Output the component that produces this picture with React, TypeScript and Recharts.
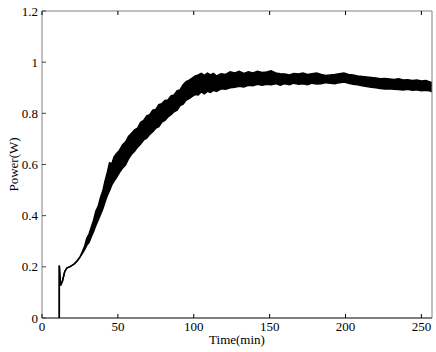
import { Area, ComposedChart, Label, XAxis, YAxis } from "recharts";

// time in minutes, lower / upper edge of the noisy power trace (W)
const times = [
  11.4, 11.4, 12.2, 13.5, 15, 16.5, 18.5, 21, 23, 25, 26.5, 28, 29.5, 31, 32.5, 34, 35.5, 37, 38.5, 40,
  41.5, 43, 44.5, 46, 47.5, 49, 51, 53, 55, 57, 59, 61, 63, 65, 67, 69, 71, 73, 75, 77,
  79, 81, 83, 85, 87, 89, 91, 93, 95, 97, 99, 101, 103, 105, 107, 109, 111, 113, 115, 118,
  121, 124, 127, 130, 133, 136, 139, 142, 145, 148, 151, 154, 157, 160, 163, 166, 169, 172, 175, 178,
  181, 184, 187, 190, 193, 196, 199, 202, 205, 208, 211, 214, 217, 220, 223, 226, 229, 232, 235, 238,
  241, 244, 247, 250, 253, 256, 257,
];
const lowEdge = [
  0, 0.205, 0.127, 0.145, 0.182, 0.196, 0.201, 0.21, 0.222, 0.238, 0.252, 0.266, 0.284, 0.296, 0.318, 0.338, 0.362, 0.382, 0.404, 0.425,
  0.452, 0.478, 0.498, 0.52, 0.535, 0.548, 0.568, 0.585, 0.598, 0.622, 0.64, 0.652, 0.668, 0.68, 0.696, 0.703, 0.718, 0.728, 0.742, 0.748,
  0.766, 0.772, 0.786, 0.795, 0.806, 0.812, 0.83, 0.836, 0.852, 0.858, 0.866, 0.874, 0.872, 0.884, 0.876, 0.886, 0.882, 0.89, 0.886, 0.896,
  0.894, 0.9, 0.902, 0.906, 0.903, 0.91, 0.908, 0.914, 0.91, 0.914, 0.912, 0.916, 0.91, 0.916, 0.912, 0.918, 0.914, 0.916, 0.912, 0.918,
  0.915, 0.916, 0.92, 0.918, 0.916, 0.92, 0.922, 0.918, 0.914, 0.912, 0.908, 0.905, 0.902, 0.9, 0.897, 0.895, 0.896, 0.894, 0.893, 0.891,
  0.894, 0.89, 0.892, 0.888, 0.89, 0.887, 0.884,
];
const highEdge = [
  0, 0.205, 0.127, 0.145, 0.182, 0.196, 0.201, 0.21, 0.222, 0.238, 0.258, 0.279, 0.312, 0.328, 0.356, 0.382, 0.418, 0.436, 0.47, 0.495,
  0.535, 0.568, 0.607, 0.603, 0.63, 0.642, 0.655, 0.676, 0.688, 0.71, 0.722, 0.735, 0.742, 0.765, 0.772, 0.79, 0.795, 0.812, 0.815, 0.834,
  0.838, 0.85, 0.852, 0.868, 0.872, 0.888, 0.892, 0.912, 0.924, 0.93, 0.938, 0.946, 0.95, 0.956, 0.948, 0.957, 0.95, 0.956, 0.946, 0.955,
  0.952, 0.962, 0.958, 0.964, 0.956, 0.962, 0.958, 0.964, 0.96, 0.962, 0.966, 0.958, 0.955, 0.954, 0.95, 0.956, 0.954, 0.958, 0.952, 0.955,
  0.958, 0.952, 0.948, 0.95, 0.952, 0.955, 0.958, 0.952, 0.95, 0.946, 0.944, 0.942, 0.94, 0.938, 0.935, 0.936, 0.934, 0.932, 0.935, 0.93,
  0.931, 0.928, 0.93, 0.926, 0.928, 0.922, 0.92,
];
const xTicks = [0, 50, 100, 150, 200, 250];
const yTicks = [0, 0.2, 0.4, 0.6, 0.8, 1, 1.2];

const data = times.map((t, i) => ({ t, band: [lowEdge[i], highEdge[i]] }));

const FONT = "'Liberation Serif', 'Times New Roman', serif";
const FONT_SIZE = 13;
const TICK_LEN = 4;
const BOX_GRAY = "#808080";

function BottomTick({ x, y, payload }: any) {
  return (
    <g>
      <line x1={x} y1={y} x2={x} y2={y - TICK_LEN} stroke="#000" />
      <text x={x} y={y + 13} textAnchor="middle" fontFamily={FONT} fontSize={FONT_SIZE} fill="#000">
        {payload.value}
      </text>
    </g>
  );
}

function LeftTick({ x, y, payload }: any) {
  return (
    <g>
      <line x1={x} y1={y} x2={x + TICK_LEN} y2={y} stroke="#444" />
      <text x={x - 4} y={y} textAnchor="end" dominantBaseline="central" fontFamily={FONT} fontSize={FONT_SIZE} fill="#000">
        {payload.value}
      </text>
    </g>
  );
}

function TopTick({ x, y }: any) {
  return <line x1={x} y1={y} x2={x} y2={y + TICK_LEN} stroke="#000" />;
}

function RightTick({ x, y }: any) {
  return <line x1={x} y1={y} x2={x - TICK_LEN} y2={y} stroke="#444" />;
}

export default function App() {
  return (
    <div style={{ position: "absolute", left: 0, top: 0, background: "#fff" }}>
      <ComposedChart width={436} height={352} data={data} margin={{ top: 0, right: 0, bottom: 0, left: 0 }}>
        <XAxis
          dataKey="t"
          type="number"
          domain={[0, 257]}
          ticks={xTicks}
          allowDataOverflow
          height={34}
          tickSize={0}
          tickMargin={0}
          tickLine={false}
          tick={<BottomTick />}
          axisLine={{ stroke: "#000" }}
          interval={0}
        >
          <Label
            content={({ viewBox }: any) => (
              <text
                x={viewBox.x + viewBox.width / 2}
                y={viewBox.y + 26}
                textAnchor="middle"
                fontFamily={FONT}
                fontSize={FONT_SIZE}
                fill="#000"
              >
                Time(min)
              </text>
            )}
          />
        </XAxis>
        <XAxis
          xAxisId="top"
          orientation="top"
          dataKey="t"
          type="number"
          domain={[0, 257]}
          ticks={xTicks}
          allowDataOverflow
          height={11}
          tickSize={0}
          tickMargin={0}
          tickLine={false}
          tick={<TopTick />}
          axisLine={{ stroke: BOX_GRAY }}
          interval={0}
        />
        <YAxis
          type="number"
          domain={[0, 1.2]}
          ticks={yTicks}
          width={42}
          tickSize={0}
          tickMargin={0}
          tickLine={false}
          tick={<LeftTick />}
          axisLine={{ stroke: BOX_GRAY }}
          interval={0}
        >
          <Label
            content={({ viewBox }: any) => {
              const cx = viewBox.x + 13;
              const cy = viewBox.y + viewBox.height / 2;
              return (
                <text
                  x={cx}
                  y={cy}
                  transform={`rotate(-90, ${cx}, ${cy})`}
                  textAnchor="middle"
                  dominantBaseline="central"
                  fontFamily={FONT}
                  fontSize={FONT_SIZE}
                  fill="#000"
                >
                  Power(W)
                </text>
              );
            }}
          />
        </YAxis>
        <YAxis
          yAxisId="right"
          orientation="right"
          type="number"
          domain={[0, 1.2]}
          ticks={yTicks}
          width={4}
          tickSize={0}
          tickMargin={0}
          tickLine={false}
          tick={<RightTick />}
          axisLine={{ stroke: BOX_GRAY }}
          interval={0}
        />
        <Area
          type="linear"
          dataKey="band"
          stroke="#000"
          strokeWidth={1.5}
          fill="#000"
          fillOpacity={1}
          dot={false}
          activeDot={false}
          isAnimationActive={false}
        />
      </ComposedChart>
    </div>
  );
}
